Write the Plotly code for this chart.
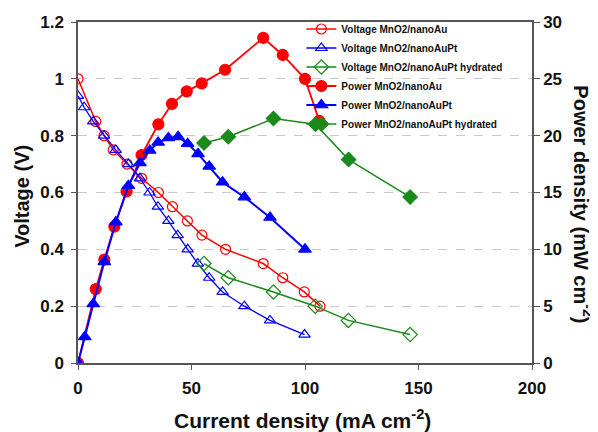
import plotly.graph_objects as go

# ---- data ----
v_au_x = [0, 7.8, 11.5, 15.5, 21.6, 28.0, 35.4, 41.6, 48.2, 54.6, 65.0, 81.6, 90.2, 99.7, 106.6]
v_au_y = [1.0, 0.85, 0.80, 0.75, 0.70, 0.65, 0.60, 0.55, 0.50, 0.45, 0.40, 0.35, 0.30, 0.25, 0.20]

v_aupt_x = [0, 2.7, 6.7, 11.5, 16.6, 22.2, 27.3, 31.5, 35.2, 39.8, 43.9, 48.3, 52.8, 57.8, 63.7, 73.3, 84.6, 99.8]
v_aupt_y = [0.94, 0.90, 0.85, 0.80, 0.75, 0.70, 0.65, 0.60, 0.55, 0.50, 0.45, 0.40, 0.35, 0.30, 0.25, 0.20, 0.15, 0.10]

v_hyd_x = [55.5, 66.2, 86.1, 104.5, 119.1, 146.3]
v_hyd_y = [0.35, 0.30, 0.25, 0.20, 0.15, 0.10]

p_au_x = [0, 7.8, 11.6, 16.0, 21.4, 28.0, 35.4, 41.4, 47.9, 54.5, 64.8, 81.6, 90.2, 100.0, 106.3]
p_au_y = [0, 6.5, 9.1, 12.0, 15.1, 18.3, 21.0, 22.8, 23.9, 24.6, 25.8, 28.6, 27.1, 25.0, 21.3]

p_aupt_x = [0, 3.0, 6.7, 11.6, 16.7, 22.2, 27.3, 31.6, 35.3, 39.8, 44.1, 48.3, 52.9, 57.8, 63.7, 73.3, 84.6, 100.0]
p_aupt_y = [0, 2.3, 5.2, 8.9, 12.4, 15.6, 17.6, 18.7, 19.4, 19.8, 19.9, 19.3, 18.4, 17.3, 15.9, 14.6, 12.8, 10.0]

p_hyd_x = [55.5, 66.2, 86.1, 104.6, 119.2, 146.3]
p_hyd_y = [19.35, 19.9, 21.5, 21.0, 17.9, 14.6]

x_ticks = [0, 50, 100, 150, 200]
y1_ticks = [0, 0.2, 0.4, 0.6, 0.8, 1.0, 1.2]
y1_labels = ["0", "0.2", "0.4", "0.6", "0.8", "1", "1.2"]
y2_ticks = [0, 5, 10, 15, 20, 25, 30]

RED = "#ff0000"
BLUE = "#0000ff"
GREEN = "#1a8a1a"
AX = "#555555"
TXT = "#111111"
FONT = "Liberation Sans, Arial, sans-serif"

fig = go.Figure()

def add(x, y, name, color, symbol, size, width, axis, open_):
    fig.add_trace(go.Scatter(
        x=x, y=y, name=name, mode="lines+markers", yaxis=axis,
        line=dict(color=color, width=width),
        marker=dict(symbol=symbol + ("-open" if open_ else ""), size=size, color=color,
                    line=dict(color=color, width=1.2)),
    ))

add(v_au_x, v_au_y, "Voltage MnO2/nanoAu", RED, "circle", 10, 1.5, "y", True)
add(v_aupt_x, v_aupt_y, "Voltage MnO2/nanoAuPt", BLUE, "triangle-up", 10, 1.3, "y", True)
add(v_hyd_x, v_hyd_y, "Voltage MnO2/nanoAuPt hydrated", GREEN, "diamond", 11, 1.5, "y", True)
add(p_au_x, p_au_y, "Power MnO2/nanoAu", RED, "circle", 11, 1.8, "y2", False)
add(p_aupt_x, p_aupt_y, "Power MnO2/nanoAuPt", BLUE, "triangle-up", 11, 2.0, "y2", False)
add(p_hyd_x, p_hyd_y, "Power MnO2/nanoAuPt hydrated", GREEN, "diamond", 11, 1.5, "y2", False)

tickfont = dict(family=FONT, size=17, color=TXT, weight="bold")
titlefont = dict(family=FONT, size=20, color=TXT, weight="bold")

# page body has an 8px margin, so the figure is sized to fit the 598x432 window
fig.update_layout(
    width=590, height=424,
    margin=dict(l=70, r=66, t=14, b=69, autoexpand=False),
    paper_bgcolor="white", plot_bgcolor="white",
    font=dict(family=FONT, color=TXT),
    showlegend=True,
    legend=dict(x=0.492, y=1.022, xanchor="left", yanchor="top",
                bgcolor="rgba(0,0,0,0)", tracegroupgap=0,
                font=dict(family=FONT, size=10, color=TXT, weight="bold")),
    xaxis=dict(range=[0, 200], tickvals=x_ticks, ticks="outside", ticklen=5,
               tickcolor=AX, showline=True, linecolor=AX, linewidth=1.5, mirror=True,
               showgrid=False, zeroline=False, tickfont=tickfont, ticklabelstandoff=4),
    yaxis=dict(range=[0, 1.2], tickvals=y1_ticks, ticktext=y1_labels, ticks="outside",
               ticklen=5, tickcolor=AX, showline=True, linecolor=AX, linewidth=1.5,
               showgrid=True, gridcolor="#c8c8c8", griddash="dash", gridwidth=1,
               zeroline=False, tickfont=tickfont, ticklabelstandoff=4),
    yaxis2=dict(range=[0, 30], tickvals=y2_ticks, overlaying="y", side="right",
                ticks="outside", ticklen=6, tickcolor=AX, showline=True, linecolor=AX,
                linewidth=1.5, showgrid=False, zeroline=False, tickfont=tickfont),
)

fig.add_annotation(text="Current density (mA cm<sup>-2</sup>)",
                   xref="paper", yref="paper", x=0.494, y=-0.163,
                   xanchor="center", yanchor="middle", showarrow=False,
                   font=dict(family=FONT, size=21, color=TXT, weight="bold"))
fig.add_annotation(text="Voltage (V)", textangle=-90,
                   xref="paper", yref="paper", x=-0.125, y=0.488,
                   xanchor="center", yanchor="middle", showarrow=False, font=titlefont)
fig.add_annotation(text="Power density (mW cm<sup>-2</sup>)", textangle=90,
                   xref="paper", yref="paper", x=1.114, y=0.466,
                   xanchor="center", yanchor="middle", showarrow=False, font=titlefont)

fig.write_html("out.html")
